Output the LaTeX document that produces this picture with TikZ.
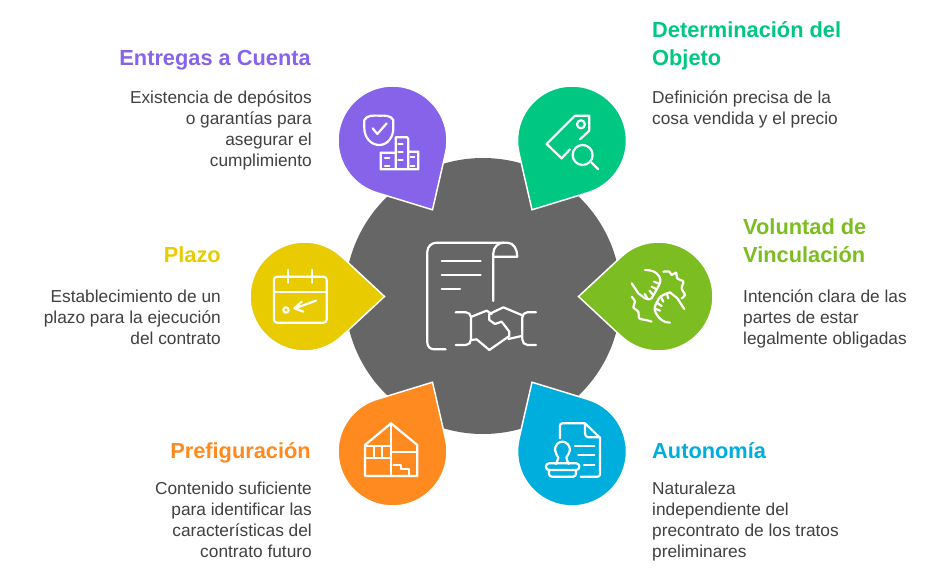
\documentclass[tikz,border=0pt]{standalone}
\usepackage{fontspec}
\setmainfont{Liberation Sans}
\definecolor{grayhub}{HTML}{666666}
\definecolor{purplepin}{HTML}{8763EA}
\definecolor{greenpin}{HTML}{00C781}
\definecolor{limepin}{HTML}{7CBD22}
\definecolor{yellowpin}{HTML}{E8CB00}
\definecolor{orangepin}{HTML}{FF8A20}
\definecolor{bluepin}{HTML}{00AEDE}
\definecolor{bodytext}{HTML}{404040}
\tikzset{
  icon/.style={draw=white,line width=2.2pt,line cap=round,line join=round},
  pinshape/.style={draw=white,line width=1.5pt,line join=miter},
  headline/.style={font=\fontsize{21.8}{28}\selectfont\bfseries,inner sep=0pt,align=left},
  bodyleft/.style={font=\fontsize{17.3}{21}\selectfont,text=bodytext,inner sep=0pt,align=left,anchor=north west},
  bodyright/.style={font=\fontsize{17.3}{21}\selectfont,text=bodytext,inner sep=0pt,align=right,anchor=north east}
}
\newcommand{\droppin}[3]{
\fill[#3,pinshape] ([shift={(#2+47:54.5)}]#1) arc[start angle=#2+47,delta angle=266,radius=54.5] -- ([shift={(#2:80)}]#1) -- cycle;
}
\begin{document}
\begin{tikzpicture}[line cap=round,line join=round,x=1pt,y=-1pt]
\useasboundingbox (0,0) rectangle (950,586);
\fill[color=grayhub] (483,296) circle (138);
\coordinate (pEntregas) at (392.5,140.5);
\coordinate (pObjeto) at (572,140.5);
\coordinate (pPlazo) at (304.5,296.5);
\coordinate (pVoluntad) at (658.5,296.5);
\coordinate (pPrefig) at (392.5,451.5);
\coordinate (pAutonomia) at (572,451.5);
\droppin{pEntregas}{60}{purplepin}
\droppin{pObjeto}{120}{greenpin}
\droppin{pPlazo}{0}{yellowpin}
\droppin{pVoluntad}{180}{limepin}
\droppin{pPrefig}{-60}{orangepin}
\droppin{pAutonomia}{-120}{bluepin}
% contract and handshake
\begin{scope}[shift={(400,220)},scale=0.3333]
\draw[icon] (137,388) -- (102,388) to[out=180,in=-90] (82,368) -- (82,95) to[out=90,in=180] (110,68) -- (322,68) to[out=0,in=90] (352,110) -- (282,110);
\draw[icon] (280,243) -- (280,100) to[out=90,in=180] (312,68);
\draw[icon] (125,124) -- (242,124) (125,166) -- (242,166) (125,208) -- (180,208);
\draw[icon] (167,277) -- (198,277) to[out=0,in=90] (213,292) -- (213,358) to[out=-90,in=0] (198,375) -- (167,375);
\draw[icon] (408,277) -- (382,277) to[out=180,in=90] (367,292) -- (367,358) to[out=-90,in=180] (382,375) -- (408,375);
\draw[icon] (215,290) -- (260,272) -- (275,282);
\draw[icon] (215,360) -- (230,358) -- (268,390) -- (328,348) -- (328,335) -- (305,305) -- (285,312) -- (268,300) -- (268,282) -- (310,262) -- (365,285);
\draw[icon] (325,357) -- (365,348);
\end{scope}
% shield and buildings
\begin{scope}[shift={(330,70)},scale=0.3333]
\draw[icon] (148,137) to[out=180,in=60] (103,150) -- (103,175) to[out=-90,in=180] (148,225) to[out=0,in=-90] (190,175) -- (190,150) to[out=120,in=0] (148,137);
\draw[icon] (128,175) -- (142,192) -- (170,160);
\draw[icon] (197,298) -- (197,202) -- (232,202) -- (235,208) -- (235,298) (235,245) -- (265,245) -- (265,298) -- (152,298) -- (152,248) -- (197,248);
\draw[icon] (205,223) -- (218,223) (205,247) -- (218,247) (205,271) -- (218,271) (165,265) -- (178,265) (165,288) -- (178,288) (242,262) -- (253,262) (242,288) -- (253,288);
\end{scope}
% tag and magnifier
\begin{scope}[shift={(330,70)},scale=0.3333]
\draw[icon] (720,238) -- (695,265) -- (650,222) -- (735,137) -- (778,137) -- (778,182) -- (750,208);
\draw[icon] (753,163) circle (12);
\draw[icon] (758,255) circle (30);
\draw[icon] (785,278) -- (805,298);
\end{scope}
% calendar
\begin{scope}[shift={(240,230)},scale=0.3333]
\draw[icon,rounded corners=3pt] (102,140) rectangle (260,278);
\draw[icon] (102,185) -- (260,185) (145,120) -- (145,158) (215,120) -- (215,158);
\draw[icon] (138,240) circle (8);
\draw[icon] (228,212) -- (165,235) (185,215) -- (163,235) -- (190,245);
\end{scope}
% fists
\begin{scope}[shift={(570,230)},scale=0.3333]
\draw[icon] (225,120) to[out=0,in=120] (268,140) to[out=-60,in=60] (262,175) -- (245,205) to[out=240,in=-10] (225,205) -- (205,190) -- (185,160);
\draw[icon] (265,160) -- (252,155) (260,178) -- (245,170) (250,195) -- (238,182) (232,205) -- (224,192);
\draw[icon] plot[smooth] coordinates {(280,125) (298,125) (305,135) (318,128) (322,145) (340,155) (335,175) (345,195) (335,205)};
\draw[icon] (343,237) -- (322,205) -- (300,187) -- (280,195) to[out=200,in=60] (258,222) to[out=240,in=120] (258,250) to[out=-60,in=180] (300,278);
\draw[icon] (290,190) -- (295,205) (272,200) -- (280,215) (260,218) -- (275,228) (256,236) -- (270,242);
\draw[icon] plot[smooth] coordinates {(245,275) (228,270) (208,265) (205,245) (190,232) (195,215) (185,200)};
\end{scope}
% house plan
\begin{scope}[shift={(330,375)},scale=0.3333]
\draw[icon] (105,210) -- (183,145) -- (262,210) -- (262,303) -- (105,303) -- cycle;
\draw[icon] (183,145) -- (183,303) (105,213) -- (183,213) (105,248) -- (183,248) (183,232) -- (262,232);
\draw[icon] (132,213) -- (132,248) (157,213) -- (157,248);
\draw[icon] (190,270) -- (212,270) -- (212,283) -- (238,283) -- (238,303);
\end{scope}
% document and stamp
\begin{scope}[shift={(330,375)},scale=0.3333]
\draw[icon] (690,190) -- (690,152) to[out=90,in=180] (697,145) -- (765,145) -- (810,188) -- (810,298) to[out=-90,in=0] (803,305) -- (752,305);
\draw[icon] (765,145) -- (765,175) to[out=-90,in=180] (775,187) -- (810,187);
\draw[icon] (735,213) -- (793,213) (745,241) -- (793,241) (762,270) -- (793,270);
\draw[icon] (676,265) to[out=-70,in=-110] (685,248) to[out=110,in=-90] (675,225) to[out=90,in=180] (697,200) to[out=0,in=90] (720,225) to[out=-90,in=70] (709,248) to[out=-70,in=250] (718,265);
\draw[icon,rounded corners=3pt] (648,265) rectangle (748,285);
\draw[icon] (657,285) -- (657,296) to[out=-90,in=180] (665,305) -- (730,305) to[out=0,in=-90] (738,296) -- (738,285);
\end{scope}
% titles
\node[headline,text=purplepin,anchor=base east] (tEntregas) at (311,66) {Entregas a Cuenta};
\node[headline,text=greenpin,anchor=base west] (tObjeto) at (652,66) {Determinación del\\Objeto};
\node[headline,text=yellowpin,anchor=base east] (tPlazo) at (221,262) {Plazo};
\node[headline,text=limepin,anchor=base west] (tVoluntad) at (743,262) {Voluntad de\\Vinculación};
\node[headline,text=orangepin,anchor=base east] (tPrefig) at (311,458) {Prefiguración};
\node[headline,text=bluepin,anchor=base west] (tAutonomia) at (652,458) {Autonomía};
% descriptions
\node[bodyright] (bEntregas) at (312,91) {Existencia de depósitos\\o garantías para\\asegurar el\\cumplimiento};
\node[bodyleft] (bObjeto) at (652,91) {Definición precisa de la\\cosa vendida y el precio};
\node[bodyright] (bPlazo) at (221,290) {Establecimiento de un\\plazo para la ejecución\\del contrato};
\node[bodyleft] (bVoluntad) at (743,290) {Intención clara de las\\partes de estar\\legalmente obligadas};
\node[bodyright] (bPrefig) at (312,482) {Contenido suficiente\\para identificar las\\características del\\contrato futuro};
\node[bodyleft] (bAutonomia) at (652,482) {Naturaleza\\independiente del\\precontrato de los tratos\\preliminares};
\end{tikzpicture}
\end{document}
